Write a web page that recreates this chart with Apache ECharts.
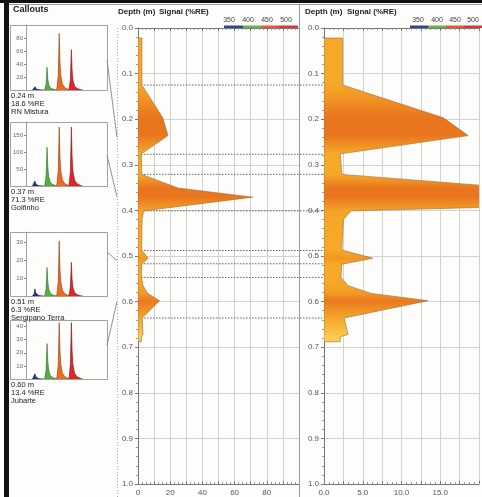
<!DOCTYPE html>
<html>
<head>
<meta charset="utf-8">
<script src="https://cdn.jsdelivr.net/npm/echarts@6/dist/echarts.min.js"></script>
<style>
  html, body { margin: 0; padding: 0; background: #fdfdfb; }
  #chart { width: 482px; height: 497px; }
</style>
</head>
<body>
<div id="chart"></div>
<script>
// ---- Depth profile of the relative emission signal ----
const depthM   = [0.022, 0.125, 0.197, 0.236, 0.276, 0.321, 0.351, 0.371, 0.401, 0.420, 0.487,
                  0.505, 0.518, 0.547, 0.565, 0.582, 0.598, 0.636, 0.672, 0.677, 0.688];
const signalRE = [2.4, 2.4, 15.4, 18.6, 2.1, 2.3, 24.8, 71.3, 3.5, 2.5, 2.3,
                  6.3, 2.3, 2.2, 3.1, 6.1, 13.4, 2.6, 3.1, 2.1, 2.1];

// integration limits of the four layers (m)
const peakBounds = [0.125, 0.277, 0.321, 0.401, 0.488, 0.517, 0.547, 0.636];

// ---- Callouts ----
const calloutDepth  = [0.24, 0.37, 0.51, 0.60];
const calloutSignal = [18.6, 71.3, 6.3, 13.4];
const calloutName   = ['RN Mistura', 'Golfinho', 'Sergipano Terra', 'Jubarte'];
const calloutMax    = [100, 190, 36, 45];
const calloutStep   = [20, 50, 10, 10];

const wavelengths = ['350', '400', '450', '500'];

// emission spectra of each callout, one list per excitation band: [position, intensity]
const navyBand = [
  [[8,0],[10,1.5],[11,5],[12,2.5],[13,1.2],[15,0.5],[18,0.2],[22,0]],
  [[8,0],[10,4],[11,15],[12,7],[13,3.5],[15,1.5],[18,0.5],[22,0]],
  [[8,0],[10,1.2],[11,4],[12,2],[13,1],[15,0.4],[18,0.15],[22,0]],
  [[8,0],[10,1.2],[11,4],[12,2],[13,1],[15,0.4],[18,0.15],[22,0]]
];
const greenBand = [
  [[23,0],[24.8,9],[26,35],[26.9,17],[28,8.5],[30,3.5],[33,1.4],[37,0.4],[40,0]],
  [[23,0],[24.8,29],[26,115],[26.9,57],[28,28],[30,11],[33,4.5],[37,1.2],[40,0]],
  [[23,0],[24.8,4],[26,16],[26.9,8],[28,4],[30,1.6],[33,0.6],[37,0.2],[40,0]],
  [[23,0],[24.8,7],[26,27],[26.9,13.5],[28,6.8],[30,2.7],[33,1.1],[37,0.3],[40,0]]
];
const orangeBand = [
  [[38,0],[39.8,22],[41,87],[41.9,44],[43,22],[45,9],[48,3.5],[52,1],[55,0]],
  [[38,0],[39.8,44],[41,175],[41.9,88],[43,44],[45,18],[48,7],[52,2],[55,0]],
  [[38,0],[39.8,8],[41,31],[41.9,15.5],[43,7.8],[45,3.1],[48,1.2],[52,0.35],[55,0]],
  [[38,0],[39.8,11],[41,43],[41.9,21.5],[43,10.8],[45,4.3],[48,1.7],[52,0.5],[55,0]]
];
const redBand = [
  [[53,0],[54.8,16],[56,62],[56.9,31],[58,15],[60,6],[63,2.5],[67,0.7],[70,0]],
  [[53,0],[54.8,44],[56,175],[56.9,88],[58,44],[60,18],[63,7],[67,2],[70,0]],
  [[53,0],[54.8,5],[56,19],[56.9,9.5],[58,4.8],[60,1.9],[63,0.8],[67,0.2],[70,0]],
  [[53,0],[54.8,11],[56,43],[56.9,21.5],[58,10.8],[60,4.3],[63,1.7],[67,0.5],[70,0]]
];

// ---- layout ----
const FONT = "'Liberation Sans', Arial, sans-serif";
const P1 = { left: 138, top: 28, width: 161, height: 461 };
const P2 = { left: 324, top: 28, width: 160, height: 461 };
const insetTop = [25, 122, 232, 320];
const insetHeight = [65, 64, 64, 59];
const insetLeft = 26, insetW = 81, boxLeft = 10;
const connectorFromY = [60, 155, 252, 345];
const connectorToX = 117;
const GRID_COLOR = '#d2d2d2';

const bandColors = ['#2c2f80', '#55ad40', '#f06a1e', '#e1262a'];
const bandEdges  = ['#16184a', '#2d6e22', '#8a3a10', '#7a1515'];
const barColors  = ['#3b3f8f', '#6ab04c', '#e8553a', '#d9363a'];

const chart = echarts.init(document.getElementById('chart'), null, { renderer: 'canvas' });

// fill colour of the profile, deeper orange where the signal is strong
function shade(v, pale) {
  const light = pale ? [252, 206, 84] : [246, 170, 40];
  const dark = [233, 118, 30];
  const t = Math.min(1, Math.max(0, (v - 2) / 12));
  const c = light.map((l, k) => Math.round(l + (dark[k] - l) * t));
  return `rgb(${c[0]},${c[1]},${c[2]})`;
}
function profileGradient() {
  const d0 = depthM[0], d1 = depthM[depthM.length - 1];
  const lastBound = peakBounds[peakBounds.length - 1];
  const stops = depthM.map((d, i) => ({
    offset: (d - d0) / (d1 - d0),
    color: shade(signalRE[i], d > lastBound + 0.02)
  }));
  return new echarts.graphic.LinearGradient(0, 0, 0, 1, stops);
}

function profileSeries(xAxisIndex, yAxisIndex) {
  return {
    type: 'custom', xAxisIndex, yAxisIndex, clip: true, z: 5,
    data: depthM.map((d, i) => [signalRE[i], d]),
    renderItem(params, api) {
      if (params.dataIndex !== 0) return null;
      const pts = [api.coord([0, depthM[0]])];
      depthM.forEach((d, i) => pts.push(api.coord([signalRE[i], d])));
      pts.push(api.coord([0, depthM[depthM.length - 1]]));
      return {
        type: 'polygon',
        shape: { points: pts },
        style: { fill: profileGradient(), stroke: '#a0682e', lineWidth: 0.6 }
      };
    }
  };
}

function depthAxis(gridIndex) {
  return {
    gridIndex, type: 'value', inverse: true, min: 0, max: 1, interval: 0.1,
    axisLine: { show: true, lineStyle: { color: '#777', width: 1 } },
    axisTick: { show: true, length: 3, lineStyle: { color: '#777' } },
    minorTick: { show: true, splitNumber: 5, length: 2, lineStyle: { color: '#999' } },
    axisLabel: { formatter: v => v.toFixed(1), fontSize: 8, color: '#555', fontFamily: FONT, margin: 5 },
    splitLine: { show: true, lineStyle: { color: GRID_COLOR, width: 1, type: 'solid' } }
  };
}
function signalAxis(gridIndex, max, step, position, labelFn) {
  return {
    gridIndex, type: 'value', min: 0, max, interval: step, position,
    axisLine: { show: true, onZero: false, lineStyle: { color: '#777', width: 1 } },
    axisTick: { show: true, inside: true, length: 3, lineStyle: { color: '#777' } },
    minorTick: { show: true, splitNumber: 4, length: 2, lineStyle: { color: '#999' } },
    axisLabel: labelFn
      ? { show: true, formatter: labelFn, fontSize: 8, color: '#555', fontFamily: FONT, margin: 5 }
      : { show: false },
    splitLine: { show: position === 'bottom', lineStyle: { color: GRID_COLOR, width: 1, type: 'solid' } }
  };
}

const grids = [
  { left: P1.left, top: P1.top, width: P1.width, height: P1.height },
  { left: P2.left, top: P2.top, width: P2.width, height: P2.height }
];
const xAxes = [
  signalAxis(0, 100, 10, 'bottom', v => (v % 20 === 0 && v < 100 ? String(v) : '')),
  signalAxis(0, 100, 10, 'top', null),
  signalAxis(1, 20, 2.5, 'bottom', v => (v % 5 === 0 && v < 20 ? v.toFixed(1) : '')),
  signalAxis(1, 20, 2.5, 'top', null)
];
const yAxes = [depthAxis(0), depthAxis(1)];

const series = [
  // layer limits, running from the first depth axis over to the second
  {
    type: 'custom', xAxisIndex: 0, yAxisIndex: 0, z: 3, clip: false,
    data: peakBounds.map(d => [0, d]),
    renderItem(params, api) {
      const p = api.coord([0, api.value(1)]);
      return {
        type: 'line',
        shape: { x1: p[0], y1: p[1], x2: P2.left, y2: p[1] },
        style: { stroke: '#666', lineWidth: 1, lineDash: [1.5, 1.5] }
      };
    }
  },
  // leader lines from each callout to its depth
  {
    type: 'custom', xAxisIndex: 0, yAxisIndex: 0, z: 3, clip: false,
    data: calloutDepth.map(d => [0, d]),
    renderItem(params, api) {
      const p = api.coord([0, api.value(1)]);
      return {
        type: 'line',
        shape: { x1: insetLeft + insetW, y1: connectorFromY[params.dataIndex], x2: connectorToX, y2: p[1] },
        style: { stroke: '#777', lineWidth: 0.8 }
      };
    }
  },
  profileSeries(0, 0),
  profileSeries(2, 1)
];

// callout spectra
calloutName.forEach((name, i) => {
  const gi = grids.length;
  grids.push({ left: insetLeft, top: insetTop[i], width: insetW, height: insetHeight[i] });
  const xi = xAxes.length;
  xAxes.push({ gridIndex: gi, type: 'value', min: 0, max: 100, show: false });
  const yi = yAxes.length;
  yAxes.push({
    gridIndex: gi, type: 'value', min: 0, max: calloutMax[i], interval: calloutStep[i],
    axisLine: { show: true, lineStyle: { color: '#888', width: 0.8 } },
    axisTick: { show: true, length: 2, lineStyle: { color: '#888' } },
    axisLabel: { showMinLabel: false, showMaxLabel: false, fontSize: 6, color: '#666', fontFamily: FONT, margin: 3 },
    splitLine: { show: false }
  });
  [navyBand, greenBand, orangeBand, redBand].forEach((band, b) => {
    series.push({
      type: 'line', xAxisIndex: xi, yAxisIndex: yi, data: band[i],
      symbol: 'none', smooth: false, z: 4 + b,
      lineStyle: { color: bandEdges[b], width: 0.6 },
      areaStyle: { color: bandColors[b], opacity: 1 }
    });
  });
});

// static decorations: frame, headers, wavelength bars, callout boxes and captions
const graphic = [
  { type: 'rect', shape: { x: 0, y: 0, width: 482, height: 3 }, style: { fill: '#111' }, z: 100 },
  { type: 'rect', shape: { x: 4, y: 0, width: 5, height: 497 }, style: { fill: '#111' }, z: 100 },
  { type: 'line', shape: { x1: 9, y1: 4.5, x2: 482, y2: 4.5 }, style: { stroke: '#999', lineWidth: 1 }, z: 100 },
  { type: 'line', shape: { x1: 299.5, y1: 5, x2: 299.5, y2: 497 }, style: { stroke: '#9a9a9a', lineWidth: 1 }, z: 100 },
  { type: 'line', shape: { x1: 117.5, y1: 28, x2: 117.5, y2: 497 }, style: { stroke: '#aaa', lineWidth: 1, lineDash: [1, 2] }, z: 100 },
  { type: 'text', x: 13, y: 5, style: { text: 'Callouts', font: `bold 9px ${FONT}`, fill: '#222' }, z: 100 }
];
[[118, 159, [229, 248, 267, 286], [224, 243, 261, 279, 298]],
 [305, 347, [418, 437, 455, 473], [410, 428, 446, 464, 484]]].forEach(([xd, xs, lx, bx]) => {
  graphic.push({ type: 'text', x: xd, y: 8, style: { text: 'Depth (m)', font: `bold 8px ${FONT}`, fill: '#222' }, z: 100 });
  graphic.push({ type: 'text', x: xs, y: 8, style: { text: 'Signal (%RE)', font: `bold 8px ${FONT}`, fill: '#222' }, z: 100 });
  wavelengths.forEach((w, k) => {
    graphic.push({ type: 'text', x: lx[k], y: 17, style: { text: w, font: `7px ${FONT}`, fill: '#444', align: 'center' }, z: 100 });
    graphic.push({ type: 'rect', shape: { x: bx[k], y: 25.5, width: bx[k + 1] - bx[k], height: 2.5 }, style: { fill: barColors[k] }, z: 100 });
  });
});
calloutName.forEach((name, i) => {
  graphic.push({
    type: 'rect', shape: { x: boxLeft + 0.5, y: insetTop[i] + 0.5, width: insetLeft + insetW - boxLeft, height: insetHeight[i] },
    style: { fill: 'none', stroke: '#8a8a8a', lineWidth: 0.8 }, z: 100
  });
  graphic.push({
    type: 'text', x: 11, y: insetTop[i] + insetHeight[i] + 2,
    style: {
      text: `${calloutDepth[i].toFixed(2)} m\n${calloutSignal[i].toFixed(1)} %RE\n${name}`,
      font: `7.5px ${FONT}`, fill: '#222', lineHeight: 8
    }, z: 100
  });
});

chart.setOption({
  animation: false,
  backgroundColor: '#fdfdfb',
  grid: grids,
  xAxis: xAxes,
  yAxis: yAxes,
  series,
  graphic
});
</script>
</body>
</html>
